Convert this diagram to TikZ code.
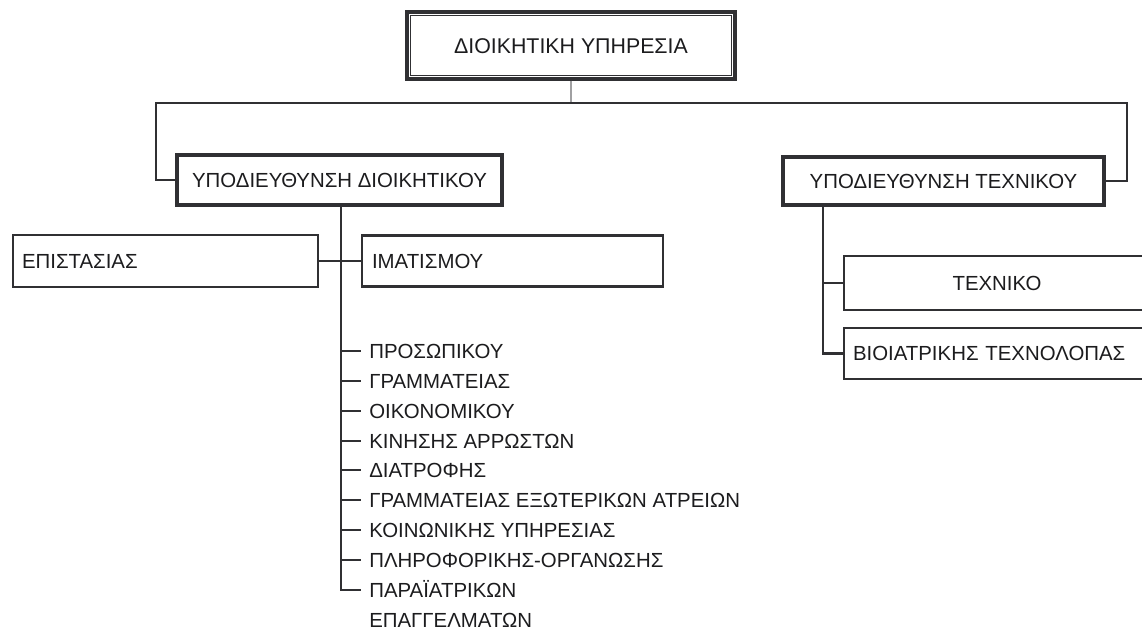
\documentclass[tikz,border=0pt]{standalone}
\usepackage{fontspec}
\setmainfont{Liberation Sans}
\definecolor{ink}{HTML}{1C1C1E}
\definecolor{wire}{HTML}{303033}
\definecolor{stem}{HTML}{A0A0A2}
\begin{document}
\begin{tikzpicture}[x=0.75pt,y=-0.75pt,
  font=\fontsize{15.3}{18}\selectfont, text=ink,
  unitbox/.style={draw=wire, line width=1.7pt, fill=white, inner ysep=0pt,
    text height=11pt, text depth=0pt},
  headbox/.style={unitbox, line width=2.6pt},
  wirel/.style={draw=wire, line width=1.7pt},
  stemline/.style={draw=stem, line width=1.8pt},
  item/.style={anchor=west, inner sep=0pt, text height=11pt, text depth=0pt},
]
\useasboundingbox[fill=white] (0,0) rectangle (1142,633);

% head of the service, double frame
\node[headbox, line width=2.4pt, minimum width=246pt, minimum height=50.25pt,
  text height=11.5pt, font=\fontsize{16}{19}\selectfont] (top) at (571,45.5) {ΔΙΟΙΚΗΤΙΚΗ ΥΠΗΡΕΣΙΑ};
\draw[draw=wire, line width=1.1pt]
  ([shift={(3.75pt,-3.75pt)}]top.north west) rectangle ([shift={(-3.75pt,3.75pt)}]top.south east);

% the two sub-directorates
\node[headbox, minimum width=243.75pt, minimum height=37.5pt] (sub1) at (339.5,180)
  {ΥΠΟΔΙΕΥΘΥΝΣΗ ΔΙΟΙΚΗΤΙΚΟΥ};
\node[headbox, minimum width=240.75pt, minimum height=36pt] (sub2) at (943.5,181)
  {ΥΠΟΔΙΕΥΘΥΝΣΗ ΤΕΧΝΙΚΟΥ};

% offices in frames
\node[unitbox, minimum width=228.75pt, minimum height=39pt, align=left,
  text width=215.25pt, inner xsep=6.75pt] (epi) at (165.5,261) {ΕΠΙΣΤΑΣΙΑΣ};
\node[unitbox, minimum width=225.75pt, minimum height=38.25pt, align=left,
  text width=210.75pt, inner xsep=7.5pt] (imat) at (512.5,261) {ΙΜΑΤΙΣΜΟΥ};
\node[unitbox, minimum width=229.5pt, minimum height=40.5pt] (tech) at (997,283) {ΤΕΧΝΙΚΟ};
\node[unitbox, minimum width=229.5pt, minimum height=38.25pt, align=left,
  text width=216pt, inner xsep=6.75pt] (bio) at (997,353.5) {ΒΙΟΙΑΤΡΙΚΗΣ ΤΕΧΝΟΛΟΠΑΣ};

% offices listed under the administrative sub-directorate
\node[item] (l1) at (369,351) {ΠΡΟΣΩΠΙΚΟΥ};
\node[item] (l2) at (369,381) {ΓΡΑΜΜΑΤΕΙΑΣ};
\node[item] (l3) at (369,411) {ΟΙΚΟΝΟΜΙΚΟΥ};
\node[item] (l4) at (369,441) {ΚΙΝΗΣΗΣ ΑΡΡΩΣΤΩΝ};
\node[item] (l5) at (369,470) {ΔΙΑΤΡΟΦΗΣ};
\node[item] (l6) at (369,500) {ΓΡΑΜΜΑΤΕΙΑΣ ΕΞΩΤΕΡΙΚΩΝ ΑΤΡΕΙΩΝ};
\node[item] (l7) at (369,530) {ΚΟΙΝΩΝΙΚΗΣ ΥΠΗΡΕΣΙΑΣ};
\node[item] (l8) at (369,560) {ΠΛΗΡΟΦΟΡΙΚΗΣ-ΟΡΓΑΝΩΣΗΣ};
\node[item] (l9) at (369,590) {ΠΑΡΑΪΑΤΡΙΚΩΝ};
\node[item] (l9b) at (369,620) {ΕΠΑΓΓΕΛΜΑΤΩΝ};

% connectors
\coordinate (busL) at (156,103);
\coordinate (busR) at (1127,103);
\coordinate (trunkA) at (341,205);
\coordinate (trunkT) at (823,205);

\draw[stemline] (top.south) -- (top.south |- busL);
\draw[wirel] (sub1.west) -| (busL) -- (busR) |- (sub2.east);

\draw[wirel] (trunkA) |- ([xshift=-6pt]l9.west);
\foreach \n in {l1,l2,l3,l4,l5,l6,l7,l8}
  \draw[wirel] (trunkA |- \n.west) -- ([xshift=-6pt]\n.west);
\draw[wirel] (epi.east) -- (imat.west);

\draw[wirel] (trunkT) |- (bio.west);
\draw[wirel] (trunkT |- tech.west) -- (tech.west);
\end{tikzpicture}
\end{document}
